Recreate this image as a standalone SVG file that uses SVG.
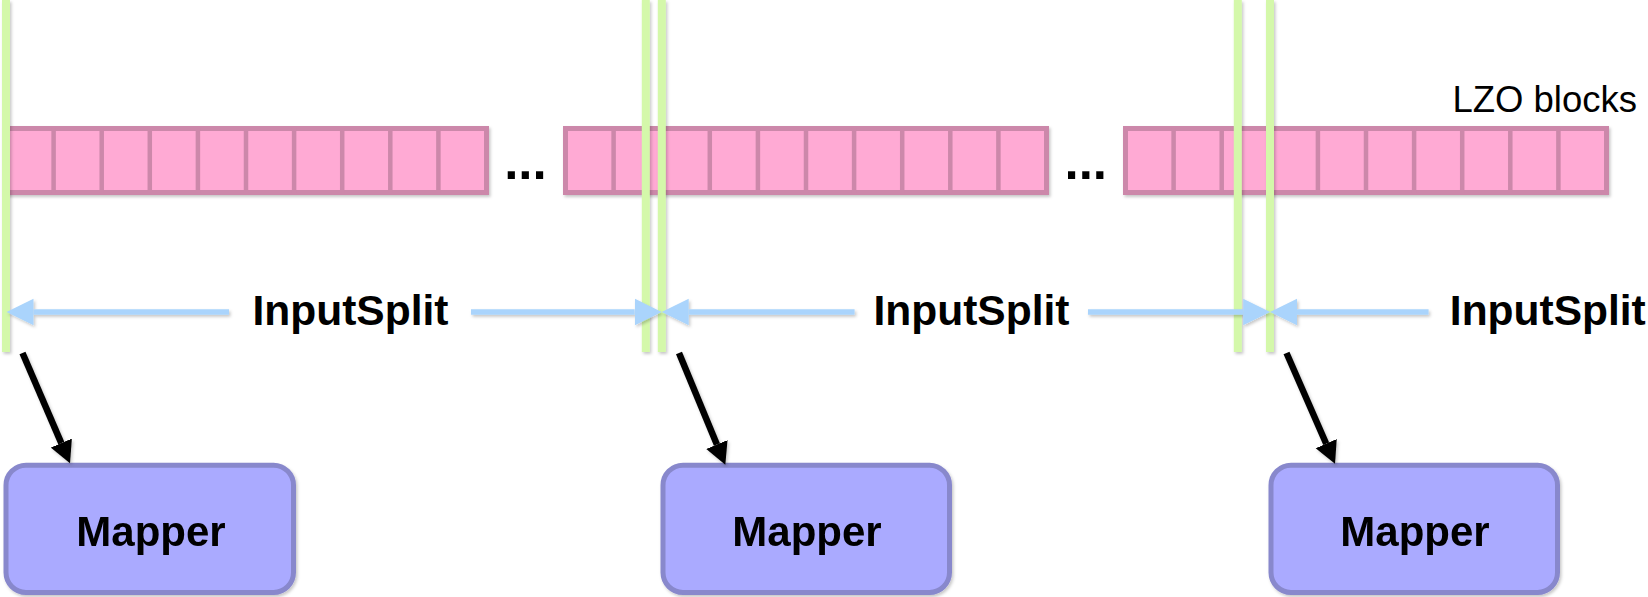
<svg xmlns="http://www.w3.org/2000/svg" xmlns:xlink="http://www.w3.org/1999/xlink" width="1648" height="597" viewBox="0 0 1648 597">
  <style>
    .run rect { fill: #ffaad4; stroke: #cc88aa; stroke-width: 5; }
    .run path { fill: none; stroke: #cc88aa; stroke-width: 4.5; }
    .boundary { stroke: #d4f8aa; stroke-width: 8; fill: none; }
    .split { stroke: #aad4fc; stroke-width: 5.5; fill: none; }
    .feed { stroke: #000; stroke-width: 6.5; fill: none; }
    .mapper rect { fill: #aaaaff; stroke: #8888cc; stroke-width: 5; }
    .label { font-family: "Liberation Sans", Arial, sans-serif; font-weight: bold; fill: #000; }
    .caption { font-family: "Liberation Sans", Arial, sans-serif; fill: #000; }
  </style>
  <defs>
    <!-- soft shadow, sized to the canvas so flat lines keep it -->
    <filter id="shade" filterUnits="userSpaceOnUse" x="-10" y="-10" width="1670" height="620">
      <feDropShadow dx="1.5" dy="2" stdDeviation="1.5" flood-color="#000" flood-opacity="0.22"/>
    </filter>
    <marker id="head-split" viewBox="0 -14 28 28" refX="0" refY="0" markerWidth="28" markerHeight="28" markerUnits="userSpaceOnUse" orient="auto">
      <path d="M0,-13.3 L27,0 L0,13.3 Z" fill="#aad4fc"/>
    </marker>
    <marker id="head-feed" viewBox="0 -12 24 24" refX="0" refY="0" markerWidth="24" markerHeight="24" markerUnits="userSpaceOnUse" orient="auto">
      <path d="M0,-11.5 L22,0 L0,11.5 Z" fill="#000"/>
    </marker>
    <!-- one run of ten LZO blocks -->
    <g id="lzo-run" class="run">
      <rect x="0" y="0" width="481" height="64"/>
      <path d="M48.1,0V64 M96.2,0V64 M144.3,0V64 M192.4,0V64 M240.5,0V64 M288.6,0V64 M336.7,0V64 M384.8,0V64 M432.9,0V64"/>
    </g>
  </defs>

  <!-- block runs -->
  <g id="blocks" filter="url(#shade)">
    <use xlink:href="#lzo-run" x="5.5" y="128.5"/>
    <use xlink:href="#lzo-run" x="565.5" y="128.5"/>
    <use xlink:href="#lzo-run" x="1125.5" y="128.5"/>
  </g>
  <g id="gaps">
    <text class="label" x="504.2" y="179.4" font-size="51">...</text>
    <text class="label" x="1064.5" y="179.4" font-size="51">...</text>
  </g>
  <text id="blocks-caption" class="caption" x="1637" y="111.7" font-size="36.5" text-anchor="end">LZO blocks</text>

  <!-- split boundaries -->
  <g id="boundaries" class="boundary" filter="url(#shade)">
    <line x1="6" y1="0" x2="6" y2="352"/>
    <line x1="645.8" y1="0" x2="645.8" y2="352"/>
    <line x1="661.8" y1="0" x2="661.8" y2="352"/>
    <line x1="1237.8" y1="0" x2="1237.8" y2="352"/>
    <line x1="1270" y1="0" x2="1270" y2="352"/>
  </g>

  <!-- mappers -->
  <g id="mapper-1" class="mapper" filter="url(#shade)">
    <rect x="6" y="465.2" width="287.5" height="127.3" rx="20"/>
    <text class="label" x="151" y="546" font-size="42" text-anchor="middle">Mapper</text>
  </g>
  <g id="mapper-2" class="mapper" filter="url(#shade)">
    <rect x="663" y="465.2" width="286.5" height="127.3" rx="20"/>
    <text class="label" x="807" y="546" font-size="42" text-anchor="middle">Mapper</text>
  </g>
  <g id="mapper-3" class="mapper" filter="url(#shade)">
    <rect x="1271" y="465.2" width="286.5" height="127.3" rx="20"/>
    <text class="label" x="1415" y="546" font-size="42" text-anchor="middle">Mapper</text>
  </g>

  <!-- split extents and feeds -->
  <g id="connectors">
    <g class="split" filter="url(#shade)">
      <path d="M229,312 H33.5" marker-end="url(#head-split)"/>
      <path d="M471,312 H634.7" marker-end="url(#head-split)"/>
      <path d="M854.6,312 H688.7" marker-end="url(#head-split)"/>
      <path d="M1088,312 H1243.2" marker-end="url(#head-split)"/>
      <path d="M1428.6,312 H1297" marker-end="url(#head-split)"/>
    </g>
    <g class="feed" filter="url(#shade)">
      <path d="M22.5,353 L61.3,443.1" marker-end="url(#head-feed)"/>
      <path d="M679,353 L716.9,444.5" marker-end="url(#head-feed)"/>
      <path d="M1286.5,353 L1326.2,443.7" marker-end="url(#head-feed)"/>
    </g>
  </g>

  <g id="split-labels">
    <text class="label" x="350.5" y="325" font-size="42.5" text-anchor="middle">InputSplit</text>
    <text class="label" x="971.5" y="325" font-size="42.5" text-anchor="middle">InputSplit</text>
    <text class="label" x="1547.8" y="325" font-size="42.5" text-anchor="middle">InputSplit</text>
  </g>
</svg>
